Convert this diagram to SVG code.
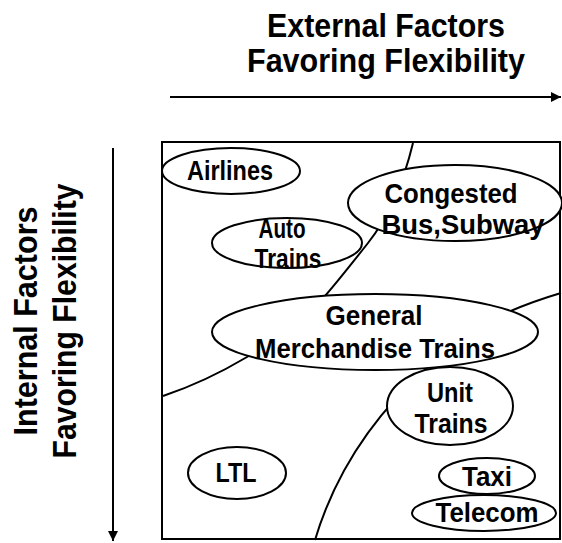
<svg xmlns="http://www.w3.org/2000/svg" width="562" height="543" viewBox="0 0 562 543">
  <style>
    .axis { fill: none; stroke: #000; stroke-width: 2; }
    .frame { fill: none; stroke: #000; stroke-width: 2; }
    .boundary { fill: none; stroke: #000; stroke-width: 2; }
    .blob { fill: #fff; stroke: #000; stroke-width: 2; }
    .title { font-family: "Liberation Sans", Arial, sans-serif; font-weight: bold; font-size: 33px; fill: #000; text-anchor: middle; }
    .lbl { font-family: "Liberation Sans", Arial, sans-serif; font-weight: bold; font-size: 27px; fill: #000; text-anchor: middle; }
  </style>
  <defs>
    <marker id="head" viewBox="0 0 10 10" refX="10" refY="5" markerWidth="5" markerHeight="5" orient="auto" markerUnits="strokeWidth">
      <path d="M0,0 L10,5 L0,10 Z" fill="#000"/>
    </marker>
  </defs>
  <rect width="562" height="543" fill="#fff"/>

  <!-- axis titles -->
  <g id="x-title">
    <text class="title" x="386" y="37" textLength="238" lengthAdjust="spacingAndGlyphs">External Factors</text>
    <text class="title" x="386" y="72" textLength="278" lengthAdjust="spacingAndGlyphs">Favoring Flexibility</text>
  </g>
  <g id="y-title" transform="translate(0,321) rotate(-90)">
    <text class="title" x="0" y="37" textLength="229" lengthAdjust="spacingAndGlyphs">Internal Factors</text>
    <text class="title" x="0" y="76" textLength="275" lengthAdjust="spacingAndGlyphs">Favoring Flexibility</text>
  </g>

  <!-- axis arrows -->
  <g id="axes">
    <line class="axis" x1="170" y1="97" x2="561" y2="97" marker-end="url(#head)"/>
    <line class="axis" x1="113" y1="148" x2="113" y2="541" marker-end="url(#head)"/>
  </g>

  <!-- plot frame -->
  <rect id="frame" class="frame" x="162" y="142" width="398" height="397"/>

  <!-- region boundaries -->
  <g id="connectors">
    <path class="boundary" d="M413,143 Q398,205 368,243 T325,296 Q290,330 247,357 Q205,382 163,396"/>
    <path class="boundary" d="M561,293 Q470,320 430,365 Q345,440 315,540"/>
  </g>

  <!-- service categories -->
  <g id="airlines">
    <ellipse class="blob" cx="231" cy="171" rx="69" ry="23"/>
    <text class="lbl" x="230" y="180" textLength="86" lengthAdjust="spacingAndGlyphs">Airlines</text>
  </g>
  <g id="auto-trains">
    <ellipse class="blob" cx="287" cy="243" rx="75" ry="25"/>
    <text class="lbl" x="282" y="238" textLength="47" lengthAdjust="spacingAndGlyphs">Auto</text>
    <text class="lbl" x="288" y="268" textLength="67" lengthAdjust="spacingAndGlyphs">Trains</text>
  </g>
  <g id="congested">
    <ellipse class="blob" cx="455" cy="203" rx="107" ry="38"/>
    <text class="lbl" x="451" y="203" textLength="133" lengthAdjust="spacingAndGlyphs">Congested</text>
    <text class="lbl" x="463" y="234" textLength="163" lengthAdjust="spacingAndGlyphs">Bus,Subway</text>
  </g>
  <g id="general-merchandise">
    <ellipse class="blob" cx="375" cy="332" rx="163" ry="38"/>
    <text class="lbl" x="374" y="325" textLength="97" lengthAdjust="spacingAndGlyphs">General</text>
    <text class="lbl" x="375" y="358" textLength="240" lengthAdjust="spacingAndGlyphs">Merchandise Trains</text>
  </g>
  <g id="unit-trains">
    <ellipse class="blob" cx="450" cy="406" rx="63" ry="39"/>
    <text class="lbl" x="450" y="402" textLength="46" lengthAdjust="spacingAndGlyphs">Unit</text>
    <text class="lbl" x="451" y="433" textLength="73" lengthAdjust="spacingAndGlyphs">Trains</text>
  </g>
  <g id="ltl">
    <ellipse class="blob" cx="237" cy="473" rx="49" ry="26"/>
    <text class="lbl" x="236" y="482" textLength="41" lengthAdjust="spacingAndGlyphs">LTL</text>
  </g>
  <g id="taxi">
    <ellipse class="blob" cx="487" cy="476" rx="48" ry="18"/>
    <text class="lbl" x="487" y="486" textLength="50" lengthAdjust="spacingAndGlyphs">Taxi</text>
  </g>
  <g id="telecom">
    <ellipse class="blob" cx="484" cy="513" rx="72" ry="18"/>
    <text class="lbl" x="487" y="522" textLength="103" lengthAdjust="spacingAndGlyphs">Telecom</text>
  </g>
</svg>
